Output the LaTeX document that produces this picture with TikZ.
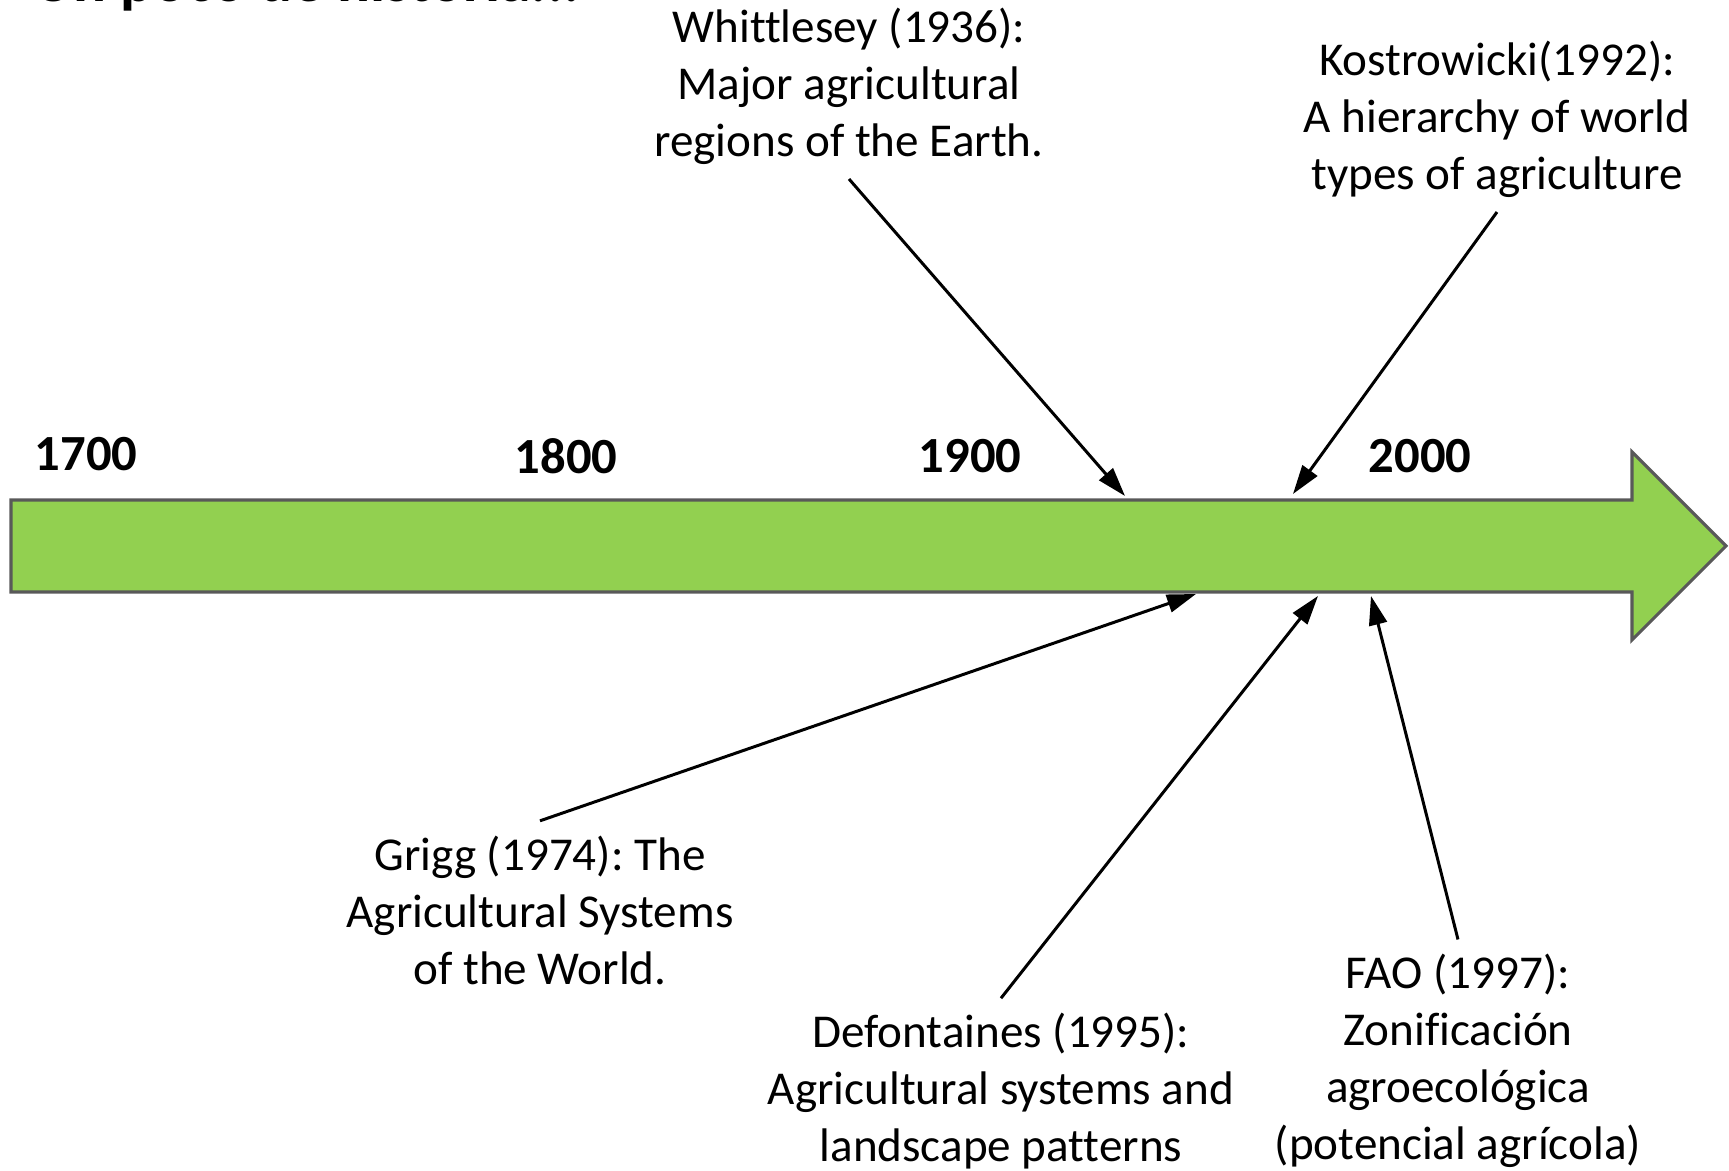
\documentclass[tikz,border=0pt]{standalone}
\usepackage{fontspec}
\setmainfont[Ligatures=NoCommon]{Carlito}
\usetikzlibrary{arrows.meta, positioning}
\definecolor{barfill}{HTML}{92D050}
\definecolor{bardraw}{HTML}{595959}
\frenchspacing
\tikzset{
    yearlbl/.style={font=\fontsize{14.4}{17}\selectfont\bfseries, inner sep=0pt},
    reftext/.style={align=center, font=\fontsize{13.4}{16.2}\selectfont, inner xsep=2pt, inner ysep=4pt},
    pointer/.style={-{Triangle[length=0.29cm, width=0.18cm]}, line width=0.85pt}
}
\begin{document}
\begin{tikzpicture}[x=0.01cm, y=-0.01cm,
  bar/.style={fill=barfill, draw=bardraw, line width=0.9pt, line join=miter},
  title/.style={font=\fontsize{17.5}{20}\selectfont\bfseries, inner sep=0pt, anchor=base west}]
  \useasboundingbox (0,0) rectangle (1729,1171);
  \node[title] (head) at (33,2) {Un poco de historia...};
  \draw[bar] (11,500) -- (1632,500) -- (1632,452) -- (1726,546) -- (1632,640) -- (1632,592) -- (11,592) -- cycle;
  \coordinate (t1) at (1125,496);
  \coordinate (t2) at (1293,494);
  \coordinate (b1) at (1196,594);
  \coordinate (b2) at (1318,596);
  \coordinate (b3) at (1371,596);
  \node[yearlbl] (y1700) at (86,454) {1700};
  \node[yearlbl] (y1800) at (566,456) {1800};
  \node[yearlbl] (y1900) at (970,456) {1900};
  \node[yearlbl] (y2000) at (1420,456) {2000};
  \node[reftext] (whit) at (849,86) {Whittlesey (1936):\\Major agricultural\\regions of the Earth.};
  \node[reftext] (kost) at (1497,119) {Kostrowicki(1992):\\A hierarchy of world\\types of agriculture};
  \node[reftext] (grigg) at (540,910) {Grigg (1974): The\\Agricultural Systems\\of the World.};
  \node[reftext] (defo) at (1001,1091) {Defontaines (1995):\\Agricultural systems and\\landscape patterns};
  \node[reftext] (fao) at (1458,1061) {FAO (1997):\\Zonificación\\agroecológica\\(potencial agrícola)};
  \draw[pointer] (whit.south) -- (t1);
  \draw[pointer] (kost.south) -- (t2);
  \draw[pointer] (grigg.north) -- (b1);
  \draw[pointer] (defo.north) -- (b2);
  \draw[pointer] (fao.north) -- (b3);
\end{tikzpicture}
\end{document}
